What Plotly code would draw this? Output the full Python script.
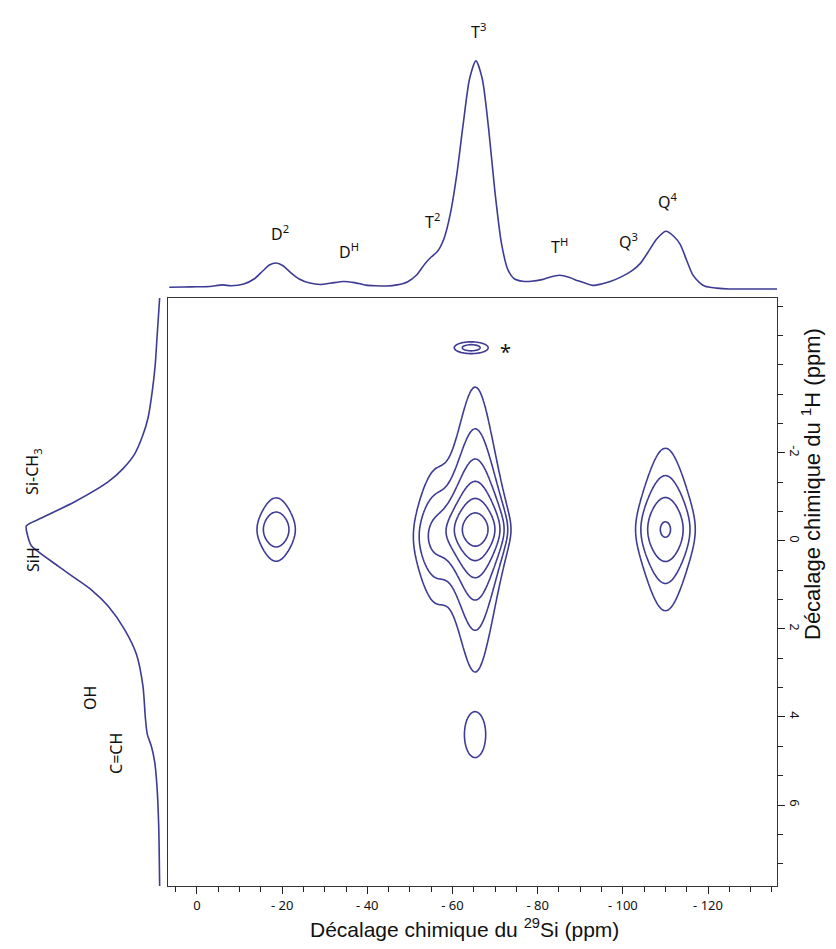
import numpy as np
import plotly.graph_objects as go

# ---------------- data ----------------
# 29Si projection (top): chemical shift (ppm) and relative intensity
si_ppm = [6.5, 3, 0, -3, -6, -8, -11, -13.5, -15.5, -17, -18.6, -20.2, -22, -24, -26.5,
          -29, -31.5, -34.4, -37, -39.7, -42, -44.4, -47, -49.5, -51.5, -53.5, -55, -56.5,
          -58, -59.5, -61, -62.5, -64, -65.5, -67, -68.5, -70, -71.5, -73, -74.5, -76.5,
          -78.5, -81, -83, -85.2, -87.5, -89.5, -92.9, -95, -97.2, -99.5, -102, -104,
          -105.8, -108, -110.1, -112, -113.5, -115, -116.4, -118, -119.3, -122, -125,
          -130, -136.5]
si_int = [0.8, 0.9, 1.0, 1.1, 1.8, 1.4, 2.2, 4.5, 8.0, 10.5, 11.4, 10.2, 7.2, 4.4, 2.6,
          2.0, 2.6, 3.3, 2.8, 1.7, 1.4, 1.3, 1.8, 3.2, 6.0, 11.0, 14.0, 16.5,
          22.0, 33.0, 50.0, 72.0, 92.0, 100.0, 92.0, 70.0, 42.0, 20.0, 8.5, 4.5, 3.4,
          3.4, 4.1, 5.3, 6.0, 5.0, 3.6, 1.6, 2.2, 3.4, 5.2, 7.8, 11.0,
          15.8, 22.0, 25.3, 23.0, 19.4, 12.5, 6.3, 2.8, 1.2, 0.4, 0.0,
          0.0, 0.0]

# 1H projection (left): chemical shift (ppm) and relative intensity
h_ppm = [-5.52, -4.6, -4.0, -3.4, -2.8, -2.4, -1.98, -1.65, -1.34, -0.89, -0.52, -0.34,
         -0.12, 0.11, 0.57, 0.84, 1.11, 1.48, 2.02, 2.57, 3.3, 4.02, 4.39, 4.66, 5.02,
         5.57, 6.48, 7.84]
h_int = [1.0, 3.0, 4.3, 6.5, 9.6, 13.5, 19.5, 28.0, 39.3, 64.0, 88.8, 100.0,
         99.0, 96.2, 76.4, 64.0, 51.7, 39.3, 26.9, 18.3, 13.4, 11.6, 10.2, 7.2, 4.7,
         3.0, 1.7, 1.0]

# 2D correlation peaks (29Si ppm, 1H ppm, widths in ppm, height in units of lowest contour)
peak_name = ["D2", "T2", "T3", "Q4", "*", "T3'"]
peak_si = [-18.6, -56.0, -65.4, -110.0, -64.4, -65.3]
peak_h = [-0.26, -0.10, -0.26, -0.26, -4.39, 4.40]
peak_wsi = [3.24, 3.4, 3.37, 3.85, 3.27, 3.45]
peak_wh = [0.47, 0.80, 0.48, 0.70, 0.11, 0.72]
peak_height = [2.63, 3.2, 21.4, 5.25, 2.1, 1.3]
peak_group = [0, 1, 1, 2, 3, 4]
peak_h_shape = ["lor", "lor", "lor", "lor", "gauss", "gauss"]
contour_ratio = 1.71
n_levels = 6

# axis ticks
si_tick_vals = [0, -20, -40, -60, -80, -100, -120]
si_tick_text = ["0", "- 20", "- 40", "- 60", "- 80", "- 100", "- 120"]
h_tick_vals = [-2, 0, 2, 4, 6]
h_tick_text = ["-2", "0", "2", "4", "6"]

# peak labels
si_label_text = ["D<sup>2</sup>", "D<sup>H</sup>", "T<sup>2</sup>", "T<sup>3</sup>",
                 "T<sup>H</sup>", "Q<sup>3</sup>", "Q<sup>4</sup>"]
si_label_ppm = [-19.5, -35.8, -55.2, -66.0, -85.2, -101.4, -110.6]
si_label_int = [24.5, 16.6, 29.8, 113.0, 18.8, 21.0, 38.5]

h_label_text = ["Si-CH<sub>3</sub>", "SiH", "OH", "C=CH"]
h_label_ppm = [-1.57, 0.43, 3.57, 4.84]
h_label_int = [95.0, 95.0, 52.7, 33.4]

# ---------------- build 2D map ----------------
xs = np.arange(7.0, -137.01, -0.25)
ys = np.arange(-5.6, 7.92, 0.02)
X, Y = np.meshgrid(xs, ys)
groups = {}
for cx, cy, wx, wy, a, g, shp in zip(peak_si, peak_h, peak_wsi, peak_wh,
                                      peak_height, peak_group, peak_h_shape):
    gx = np.exp(-0.5 * ((X - cx) / wx) ** 2)
    if shp == "lor":
        hy = (1.0 + ((Y - cy) / wy) ** 2) ** -0.8
    else:
        hy = np.exp(-0.5 * ((Y - cy) / wy) ** 2)
    groups[g] = groups.get(g, 0) + a * gx * hy
Z = np.max(np.stack(list(groups.values())), axis=0)
ZL = (np.log(np.maximum(Z, 1e-6)) / np.log(contour_ratio)).astype(np.float32)

COL = "#3d3b94"
FONT_LBL = "Noto Sans"
FONT_TITLE = "Liberation Sans"

W, H = 836, 949
box_l, box_r, box_t, box_b = 160, 769, 290, 878

fig = go.Figure()

fig.add_trace(go.Contour(
    x=xs, y=ys, z=ZL, autocontour=False,
    contours=dict(coloring="lines", start=0, end=n_levels - 1, size=1),
    colorscale=[[0, COL], [1, COL]], showscale=False,
    line=dict(width=1.6, smoothing=1.0), hoverinfo="skip",
    xaxis="x", yaxis="y"))

fig.add_trace(go.Scatter(
    x=si_ppm, y=si_int, mode="lines", line=dict(color=COL, width=1.6, shape="spline", smoothing=0.7),
    xaxis="x2", yaxis="y2", hoverinfo="skip"))

fig.add_trace(go.Scatter(
    x=h_int, y=h_ppm, mode="lines", line=dict(color=COL, width=1.6, shape="spline", smoothing=0.7),
    xaxis="x3", yaxis="y3", hoverinfo="skip"))

x_rng = [6.8, -136.2]
y_rng = [7.84, -5.52]
xdom = [box_l / W, box_r / W]
ydom = [1 - box_b / H, 1 - box_t / H]

fig.update_layout(
    width=W, height=H, autosize=False,
    margin=dict(l=0, r=0, t=0, b=0),
    paper_bgcolor="white", plot_bgcolor="white",
    showlegend=False,
    xaxis=dict(domain=xdom, range=x_rng, anchor="y", showgrid=False, zeroline=False,
               showline=True, linecolor="#333", linewidth=1, mirror=True,
               ticks="outside", ticklen=7, tickwidth=1.2, tickcolor="#222",
               tickmode="array", tickvals=si_tick_vals, ticktext=si_tick_text,
               tickfont=dict(family=FONT_LBL, size=13, color="#111"),
               minor=dict(tickmode="linear", tick0=0, dtick=5, ticks="outside",
                          ticklen=5, tickwidth=1.2, tickcolor="#222")),
    yaxis=dict(domain=ydom, range=y_rng, anchor="x", side="right", showgrid=False,
               zeroline=False, showline=True, linecolor="#333", linewidth=1, mirror=True,
               ticks="outside", ticklen=7, tickwidth=1.2, tickcolor="#222",
               tickmode="array", tickvals=h_tick_vals, ticktext=h_tick_text, tickangle=90,
               tickfont=dict(family=FONT_LBL, size=13, color="#111"),
               minor=dict(tickmode="linear", tick0=0, dtick=2 / 3, ticks="outside",
                          ticklen=5, tickwidth=1.2, tickcolor="#222")),
    xaxis2=dict(domain=xdom, range=x_rng, anchor="y2", visible=False),
    yaxis2=dict(domain=[1 - box_t / H, 1], range=[-3.94, 123.1], anchor="x2", visible=False),
    xaxis3=dict(domain=[0, box_l / W], range=[113.6, -5.2], anchor="y3", visible=False),
    yaxis3=dict(domain=ydom, range=y_rng, anchor="x3", visible=False),
)

ann = []
for t, x, y in zip(si_label_text, si_label_ppm, si_label_int):
    ann.append(dict(text=t, x=x, y=y, xref="x2", yref="y2", showarrow=False,
                    font=dict(family=FONT_LBL, size=16, color="#111")))
for t, x, y in zip(h_label_text, h_label_int, h_label_ppm):
    ann.append(dict(text=t, x=x, y=y, xref="x3", yref="y3", showarrow=False, textangle=-90,
                    font=dict(family=FONT_LBL, size=16, color="#111")))
ann.append(dict(text="*", x=-72.5, y=-4.3, xref="x", yref="y", showarrow=False,
                font=dict(family=FONT_LBL, size=20, color="#111")))
ann.append(dict(text="Décalage chimique du <sup>29</sup>Si (ppm)", x=456.6 / W, y=1 - 935 / H,
                xref="paper", yref="paper", showarrow=False,
                font=dict(family=FONT_TITLE, size=21, color="#111")))
ann.append(dict(text="Décalage chimique du <sup>1</sup>H (ppm)", x=819 / W, y=1 - 634 / H,
                xref="paper", yref="paper", showarrow=False, textangle=-90,
                font=dict(family=FONT_TITLE, size=22, color="#111")))
fig.update_layout(annotations=ann)

fig.write_html("out.html")
